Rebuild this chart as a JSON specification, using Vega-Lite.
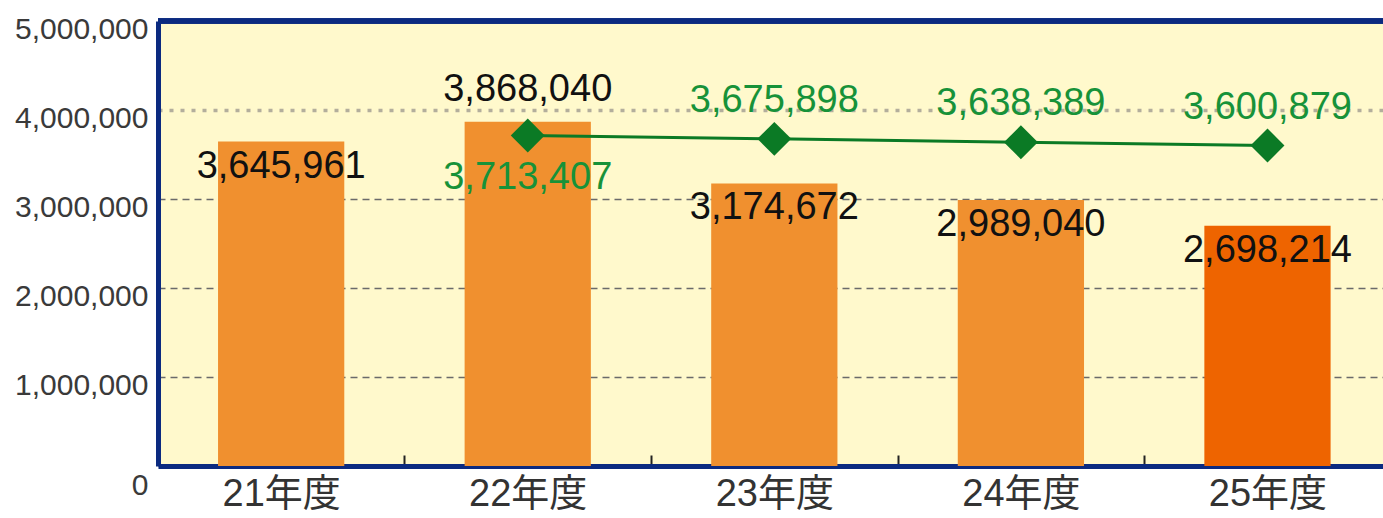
{
  "$schema": "https://vega.github.io/schema/vega-lite/v6.json",
  "autosize": "none",
  "padding": {"left": 158, "top": 21, "right": 0, "bottom": 52},
  "width": 1225,
  "height": 445,
  "background": "#ffffff",
  "view": {"fill": "#FFF9CC", "stroke": null},
  "data": {
    "values": [
      {"year": "21年度", "sales": 3645961, "trend": null},
      {"year": "22年度", "sales": 3868040, "trend": 3713407},
      {"year": "23年度", "sales": 3174672, "trend": 3675898},
      {"year": "24年度", "sales": 2989040, "trend": 3638389},
      {"year": "25年度", "sales": 2698214, "trend": 3600879}
    ]
  },
  "encoding": {
    "x": {
      "field": "year", "type": "nominal", "sort": null,
      "scale": {"paddingInner": 0.488, "paddingOuter": 0.228, "align": 0.534},
      "axis": {
        "title": null, "labelAngle": 0,
        "labelFont": "Liberation Sans, Noto Sans CJK JP", "labelFontSize": 38, "labelColor": "#333333",
        "labelPadding": 20,
        "domainColor": "#0B2A80", "domainWidth": 5,
        "tickBand": "center", "tickOffset": 123.3, "labelOffset": -123.3,
        "tickSize": -11, "tickWidth": 2, "tickColor": "#222222"
      }
    }
  },
  "layer": [
    {
      "mark": {"type": "bar"},
      "encoding": {
        "y": {
          "field": "sales", "type": "quantitative",
          "scale": {"domain": [0, 5000000], "nice": false},
          "axis": {
            "title": null, "values": [0, 1000000, 2000000, 3000000, 4000000, 5000000],
            "format": ",d", "labelOverlap": false, "labelFlush": false,
            "labelFont": "Liberation Sans", "labelFontSize": 30, "labelColor": "#3a3a3a",
            "labelPadding": 10, "labelBaseline": "middle",
            "labelOffset": {"condition": {"test": "datum.value === 0", "value": 19}, "value": 8},
            "ticks": false,
            "domainColor": "#0B2A80", "domainWidth": 5,
            "grid": true,
            "gridColor": {"condition": {"test": "datum.value === 4000000", "value": "#b3ae9c"}, "value": "#6a6a6a"},
            "gridWidth": {"condition": {"test": "datum.value === 4000000", "value": 3.5}, "value": 1.5},
            "gridDash": {"condition": {"test": "datum.value === 4000000", "value": [4, 7]}, "value": [7, 5]}
          }
        },
        "color": {
          "condition": {"test": "datum.year === '25年度'", "value": "#EE6400"},
          "value": "#F0902F"
        }
      }
    },
    {
      "mark": {"type": "rule", "color": "#0B2A80", "strokeWidth": 5},
      "encoding": {"y": {"datum": 5000000, "type": "quantitative"}, "x": null}
    },
    {
      "transform": [{"filter": "datum.year !== '22年度'"}],
      "mark": {"type": "text", "font": "Liberation Sans", "fontSize": 38, "color": "#111111", "baseline": "middle", "dy": 25},
      "encoding": {
        "y": {"field": "sales", "type": "quantitative"},
        "text": {"field": "sales", "type": "quantitative", "format": ",d"}
      }
    },
    {
      "transform": [{"filter": "datum.year === '22年度'"}],
      "mark": {"type": "text", "font": "Liberation Sans", "fontSize": 38, "color": "#111111", "baseline": "middle", "dy": -32},
      "encoding": {
        "y": {"field": "sales", "type": "quantitative"},
        "text": {"field": "sales", "type": "quantitative", "format": ",d"}
      }
    },
    {
      "transform": [{"filter": "datum.trend != null"}],
      "mark": {"type": "line", "color": "#0B7A25", "strokeWidth": 3},
      "encoding": {"y": {"field": "trend", "type": "quantitative"}}
    },
    {
      "transform": [{"filter": "datum.trend != null"}],
      "mark": {"type": "point", "shape": "diamond", "filled": true, "size": 1150, "color": "#0B7A25", "opacity": 1},
      "encoding": {"y": {"field": "trend", "type": "quantitative"}}
    },
    {
      "transform": [{"filter": "datum.trend != null && datum.year !== '22年度'"}],
      "mark": {"type": "text", "font": "Liberation Sans", "fontSize": 38, "color": "#179239", "baseline": "middle", "dy": -38},
      "encoding": {
        "y": {"field": "trend", "type": "quantitative"},
        "text": {"field": "trend", "type": "quantitative", "format": ",d"}
      }
    },
    {
      "transform": [{"filter": "datum.year === '22年度'"}],
      "mark": {"type": "text", "font": "Liberation Sans", "fontSize": 38, "color": "#179239", "baseline": "middle", "dy": 42},
      "encoding": {
        "y": {"field": "trend", "type": "quantitative"},
        "text": {"field": "trend", "type": "quantitative", "format": ",d"}
      }
    }
  ]
}
